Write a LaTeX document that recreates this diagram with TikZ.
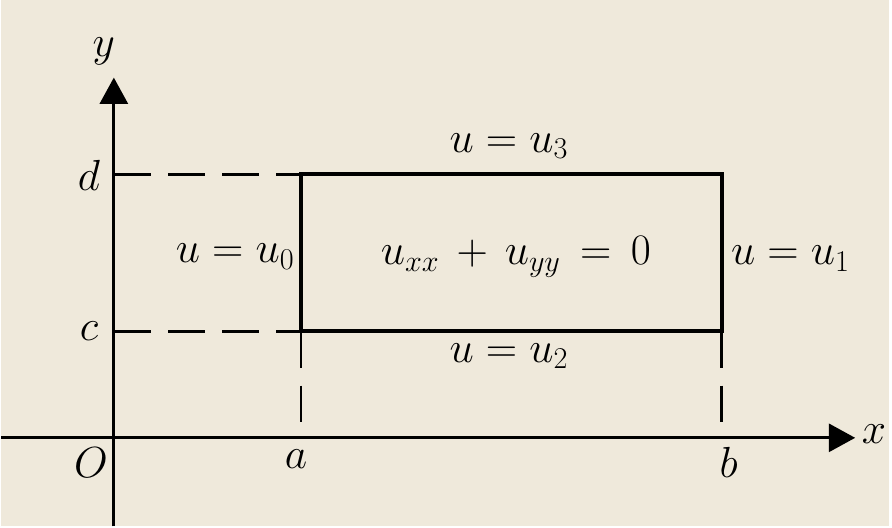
\documentclass[tikz,border=0pt]{standalone}
\usetikzlibrary{arrows.meta}
\definecolor{paper}{RGB}{239,233,219}
\begin{document}
\begin{tikzpicture}[x=0.02cm,y=-0.02cm, every node/.style={font=\fontsize{25}{28}\selectfont},
  axis/.style={line width=1.6pt,-{Triangle[length=15pt,width=16pt]}},
  side/.style={line width=2.2pt},
  guide/.style={line width=1.6pt,dash pattern=on 21pt off 10pt}]
\fill[paper] (0,0) rectangle (892,529);
% axes
\coordinate (ybot) at (113,529); \coordinate (ytop) at (113,78);
\coordinate (xlft) at (0,440); \coordinate (xrgt) at (858,440);
\draw[axis] (ybot) -- (ytop);
\draw[axis] (xlft) -- (xrgt);
% rectangle
\coordinate (ac) at (301,333); \coordinate (bc) at (724,333);
\coordinate (ad) at (301,175); \coordinate (bd) at (724,175);
\coordinate (yc) at (113,333); \coordinate (yd) at (113,175);
\coordinate (xa) at (301,440); \coordinate (xb) at (724,440);
\draw[side] (ac) -- (bc) -- (bd) -- (ad) -- cycle;
\draw[guide] (yd) -- (ad); \draw[guide] (yc) -- (ac);
\draw[guide] (ac) -- (xa); \draw[guide] (bc) -- (xb);
% labels
\node (ly) at (103,52) {$y$};
\node (lx) at (877,436) {$x$};
\node (ld) at (88,176) {$d$};
\node (lc) at (88,333) {$c$};
\node (lO) at (90,465) {$O$};
\node (la) at (296,461) {$a$};
\node (lb) at (731,465) {$b$};
\node (top) at (510,147) {$u = u_3$};
\node (lft) at (235,258) {$u = u_0$};
\node (pde) at (517,258) {$u_{xx} \mathbin{\,+\,} u_{yy} \mathrel{\,=\,} 0$};
\node (rgt) at (793,260) {$u = u_1$};
\node (bot) at (510,358) {$u = u_2$};
\end{tikzpicture}
\end{document}
